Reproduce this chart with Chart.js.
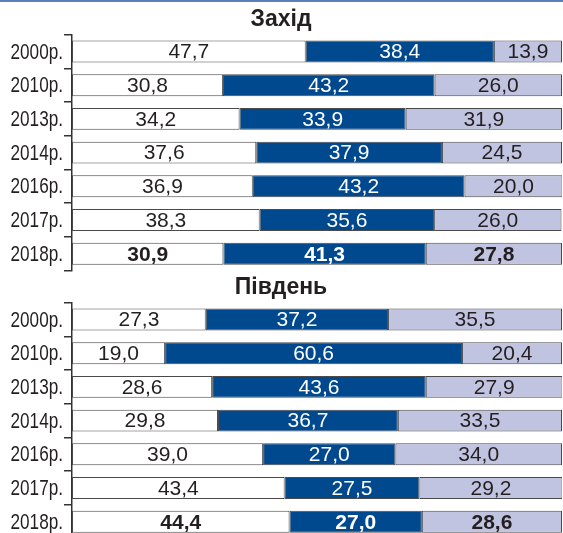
<!DOCTYPE html>
<html>
<head>
<meta charset="utf-8">
<script src="https://cdn.jsdelivr.net/npm/chart.js@4/dist/chart.umd.min.js"></script>
<style>
	body { margin: 0; background: #fff; overflow: hidden; }
	#topLine { position: absolute; left: 0; top: 0; width: 563px; height: 2px; background: #5b7fb8; }
	.box { position: absolute; left: 0; width: 563px; height: 272px; }
</style>
</head>
<body>
<div class="box" style="top:0px"><canvas id="chartWest" width="563" height="272"></canvas></div>
<div class="box" style="top:268px"><canvas id="chartSouth" width="563" height="272"></canvas></div>
<div id="topLine"></div>

<script>
//Years on the category axis
var years = ["2000р.", "2010р.", "2013р.", "2014р.", "2016р.", "2017р.", "2018р."];

//Захід - three shares per year (%)
var westA = [47.7, 30.8, 34.2, 37.6, 36.9, 38.3, 30.9];
var westB = [38.4, 43.2, 33.9, 37.9, 43.2, 35.6, 41.3];
var westC = [13.9, 26.0, 31.9, 24.5, 20.0, 26.0, 27.8];

//Південь - three shares per year (%)
var southA = [27.3, 19.0, 28.6, 29.8, 39.0, 43.4, 44.4];
var southB = [37.2, 60.6, 43.6, 36.7, 27.0, 27.5, 27.0];
var southC = [35.5, 20.4, 27.9, 33.5, 34.0, 29.2, 28.6];

var fillColors = ["#ffffff", "#00498f", "#c1c4e0"];
var textColors = ["#231f20", "#ffffff", "#231f20"];
var fontName = '"Liberation Sans", Arial, sans-serif';

//draws the value in the middle of every bar piece
var valueLabels = {
	id: 'valueLabels',
	afterDatasetsDraw: function (chart) {
		var ctx = chart.ctx;
		ctx.save();
		ctx.textAlign = 'center';
		ctx.textBaseline = 'middle';
		chart.data.datasets.forEach(function (ds, i) {
			var meta = chart.getDatasetMeta(i);
			meta.data.forEach(function (bar, j) {
				var p = bar.getProps(['x', 'base', 'y'], true);
				var bold = (j == ds.data.length - 1);
				ctx.font = (bold ? 'bold ' : '') + '21px ' + fontName;
				ctx.fillStyle = textColors[i];
				ctx.fillText(ds.data[j].toFixed(1).replace('.', ','), (p.x + p.base) / 2, p.y + 1);
			});
		});
		ctx.restore();
	}
};

//year labels are narrow in the original, so squeeze them a bit
var yearLabels = {
	id: 'yearLabels',
	afterDraw: function (chart) {
		var ctx = chart.ctx;
		var scale = chart.scales.y;
		ctx.save();
		ctx.font = '22px ' + fontName;
		ctx.fillStyle = '#231f20';
		ctx.textAlign = 'right';
		ctx.textBaseline = 'middle';
		chart.data.labels.forEach(function (lab, j) {
			ctx.save();
			ctx.translate(scale.right - 9, scale.getPixelForValue(j) + 1);
			ctx.scale(0.78, 1);
			ctx.fillText(lab, 0, 0);
			ctx.restore();
		});
		ctx.restore();
	}
};

function makeChart(id, title, a, b, c) {
	var sets = [a, b, c].map(function (vals, i) {
		return {
			data: vals,
			backgroundColor: fillColors[i],
			borderColor: '#4a4a4a',
			borderWidth: 1,
			borderSkipped: false,
			barPercentage: 0.65,
			categoryPercentage: 1
		};
	});

	return new Chart(document.getElementById(id), {
		type: 'bar',
		data: { labels: years, datasets: sets },
		plugins: [valueLabels, yearLabels],
		options: {
			indexAxis: 'y',
			responsive: false,
			animation: false,
			devicePixelRatio: 1,
			layout: { padding: { top: 0, right: 1, bottom: 1.4, left: 0 } },
			plugins: {
				legend: { display: false },
				tooltip: { enabled: false },
				title: {
					display: true,
					text: title,
					color: '#231f20',
					font: { family: fontName, size: 23, weight: 'bold' },
					padding: { top: 6, bottom: 1 }
				}
			},
			scales: {
				x: { stacked: true, min: 0, max: 100, display: false },
				y: {
					stacked: true,
					afterFit: function (scale) {
						scale.width = 72;
						scale.paddingTop = 0;
						scale.paddingBottom = 0;
					},
					border: { display: true, color: '#333', width: 1.5 },
					grid: { offset: true, drawOnChartArea: false, drawTicks: true, tickLength: 8, color: '#333', lineWidth: 1.5 },
					ticks: { display: false }
				}
			}
		}
	});
}

makeChart('chartWest', 'Захід', westA, westB, westC);
makeChart('chartSouth', 'Південь', southA, southB, southC);
</script>
</body>
</html>
